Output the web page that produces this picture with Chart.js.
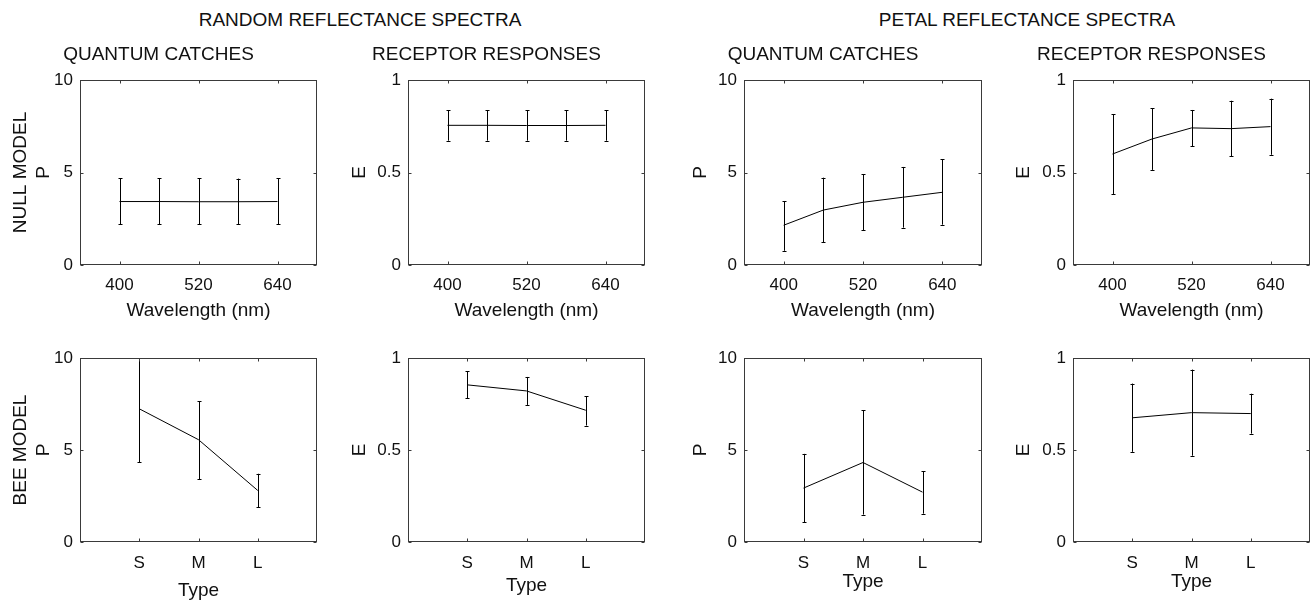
<!DOCTYPE html>
<html lang="en">
<head>
<meta charset="UTF-8">
<title>Reflectance spectra - quantum catches and receptor responses</title>
<script src="https://cdn.jsdelivr.net/npm/chart.js@4"></script>
<style>
  body { margin: 0; background: #fff; width: 1314px; height: 605px; overflow: hidden; position: relative;
         font-family: "Liberation Sans", Arial, Helvetica, sans-serif; }
  .supertitle { position: absolute; top: 9px; font-size: 19px; line-height: 22px; color: #111;
                transform: translateX(-50%); white-space: nowrap; }
  canvas { position: absolute; }
</style>
</head>
<body>
<div class="supertitle" style="left:360px">RANDOM REFLECTANCE SPECTRA</div>
<div class="supertitle" style="left:1027px">PETAL REFLECTANCE SPECTRA</div>

<script>
  // x values
  const wavelengths = [400, 460, 520, 580, 640];
  const wlTicks = [400, 520, 640];
  const types = ['S', 'M', 'L'];
  const pTicks = [0, 5, 10];
  const eTicks = [0, 0.5, 1];

  // null model, random spectra
  const rndNullP = [3.43, 3.43, 3.42, 3.42, 3.43];
  const rndNullPLo = [2.21, 2.21, 2.21, 2.21, 2.21];
  const rndNullPHi = [4.68, 4.68, 4.68, 4.67, 4.68];
  const rndNullE = [0.755, 0.755, 0.754, 0.754, 0.755];
  const rndNullELo = [0.672, 0.672, 0.672, 0.672, 0.672];
  const rndNullEHi = [0.836, 0.836, 0.836, 0.836, 0.836];

  // null model, petal spectra
  const petNullP = [2.15, 2.97, 3.39, 3.66, 3.93];
  const petNullPLo = [0.77, 1.23, 1.87, 2.02, 2.18];
  const petNullPHi = [3.46, 4.72, 4.90, 5.30, 5.71];
  const petNullE = [0.600, 0.681, 0.741, 0.737, 0.748];
  const petNullELo = [0.384, 0.514, 0.643, 0.588, 0.596];
  const petNullEHi = [0.816, 0.847, 0.838, 0.888, 0.899];

  // bee model, random spectra
  const rndBeeP = [7.24, 5.56, 2.80];
  const rndBeePLo = [4.33, 3.40, 1.88];
  const rndBeePHi = [10.15, 7.66, 3.71];
  const rndBeeE = [0.854, 0.821, 0.716];
  const rndBeeELo = [0.780, 0.745, 0.633];
  const rndBeeEHi = [0.928, 0.897, 0.792];

  // bee model, petal spectra
  const petBeeP = [2.93, 4.32, 2.71];
  const petBeePLo = [1.07, 1.49, 1.54];
  const petBeePHi = [4.79, 7.16, 3.85];
  const petBeeE = [0.675, 0.703, 0.698];
  const petBeeELo = [0.490, 0.469, 0.589];
  const petBeeEHi = [0.861, 0.937, 0.806];

  Chart.defaults.font.family = '"Liberation Sans", Arial, Helvetica, sans-serif';
  Chart.defaults.color = '#111';

  // plot boxes
  const colLeft = [80, 408, 744, 1073];
  const colWidth = [237, 237, 238, 237];
  const yTitlePad = [8.6, 19.6, 24.6, 18.6];
  const typeTitlePad = [1.6, 6.6, 10.6, 10.6];

  const panels = [
    { row: 0, col: 0, title: 'QUANTUM CATCHES', mean: rndNullP, lo: rndNullPLo, hi: rndNullPHi, yt: pTicks, ylab: ['NULL MODEL', 'P'] },
    { row: 0, col: 1, title: 'RECEPTOR RESPONSES', mean: rndNullE, lo: rndNullELo, hi: rndNullEHi, yt: eTicks, ylab: 'E' },
    { row: 0, col: 2, title: 'QUANTUM CATCHES', mean: petNullP, lo: petNullPLo, hi: petNullPHi, yt: pTicks, ylab: 'P' },
    { row: 0, col: 3, title: 'RECEPTOR RESPONSES', mean: petNullE, lo: petNullELo, hi: petNullEHi, yt: eTicks, ylab: 'E' },
    { row: 1, col: 0, mean: rndBeeP, lo: rndBeePLo, hi: rndBeePHi, yt: pTicks, ylab: ['BEE MODEL', 'P'] },
    { row: 1, col: 1, mean: rndBeeE, lo: rndBeeELo, hi: rndBeeEHi, yt: eTicks, ylab: 'E' },
    { row: 1, col: 2, mean: petBeeP, lo: petBeePLo, hi: petBeePHi, yt: pTicks, ylab: 'P' },
    { row: 1, col: 3, mean: petBeeE, lo: petBeeELo, hi: petBeeEHi, yt: eTicks, ylab: 'E' }
  ];

  // error bars, box and inward ticks like the matlab axes
  const matlabAxes = {
    id: 'matlabAxes',
    afterDatasetsDraw(chart) {
      const { ctx, chartArea: a, scales: { x, y } } = chart;
      const ds = chart.data.datasets[0];
      const pts = chart.getDatasetMeta(0).data;
      ctx.save();
      ctx.beginPath();
      ctx.rect(a.left, a.top, a.right - a.left, a.bottom - a.top);
      ctx.clip();
      ctx.strokeStyle = '#000';
      ctx.lineWidth = 1;
      pts.forEach((p, i) => {
        const px = Math.round(p.x) + 0.5;
        const yl = y.getPixelForValue(ds.errLo[i]);
        const yh = y.getPixelForValue(ds.errHi[i]);
        ctx.beginPath();
        ctx.moveTo(px, yl); ctx.lineTo(px, yh);
        ctx.moveTo(px - 2, Math.round(yl) + 0.5); ctx.lineTo(px + 2, Math.round(yl) + 0.5);
        ctx.moveTo(px - 2, Math.round(yh) + 0.5); ctx.lineTo(px + 2, Math.round(yh) + 0.5);
        ctx.stroke();
      });
      ctx.restore();

      ctx.save();
      ctx.strokeStyle = '#3a3a3a';
      ctx.lineWidth = 1;
      const l = Math.round(a.left) + 0.5, r = Math.round(a.right) - 0.5;
      const t = Math.round(a.top) + 0.5, b = Math.round(a.bottom) - 0.5;
      ctx.strokeRect(l, t, r - l, b - t);
      ctx.beginPath();
      x.ticks.forEach(tk => {
        const px = Math.round(x.getPixelForValue(tk.value)) + 0.5;
        ctx.moveTo(px, b); ctx.lineTo(px, b - 3);
        ctx.moveTo(px, t); ctx.lineTo(px, t + 3);
      });
      y.ticks.forEach(tk => {
        const py = Math.round(y.getPixelForValue(tk.value)) + 0.5;
        ctx.moveTo(l, py); ctx.lineTo(l + 3, py);
        ctx.moveTo(r, py); ctx.lineTo(r - 3, py);
      });
      ctx.stroke();
      ctx.restore();
    }
  };

  panels.forEach(pn => {
    const top = pn.row === 0;
    const canvas = document.createElement('canvas');
    const left = colLeft[pn.col] - 80;
    const w = 80 + colWidth[pn.col] + 4;
    const cTop = top ? 30 : 340;
    const h = top ? 295 : 264;
    canvas.width = w;
    canvas.height = h;
    canvas.style.left = left + 'px';
    canvas.style.top = cTop + 'px';
    canvas.style.width = w + 'px';
    canvas.style.height = h + 'px';
    document.body.appendChild(canvas);

    const xs = top ? wavelengths : types.map((_, i) => i + 1);
    const xScale = top ? {
      type: 'linear', min: 340, max: 700,
      afterBuildTicks: s => { s.ticks = wlTicks.map(v => ({ value: v })); },
      ticks: { padding: 10, font: { size: 17 }, maxRotation: 0, autoSkip: false },
      title: { display: true, text: 'Wavelength (nm)', font: { size: 19 }, padding: { top: 0, bottom: 2.6 } }
    } : {
      type: 'linear', min: 0, max: 4,
      afterBuildTicks: s => { s.ticks = types.map((_, i) => ({ value: i + 1 })); },
      ticks: { padding: 11, font: { size: 17 }, maxRotation: 0, autoSkip: false, callback: v => types[v - 1] },
      title: { display: true, text: 'Type', font: { size: 19 }, padding: { top: 0, bottom: typeTitlePad[pn.col] } }
    };
    xScale.grid = { display: false, drawTicks: false };
    xScale.border = { display: false };
    xScale.afterFit = s => { s.height = top ? 60 : 62; };

    new Chart(canvas, {
      type: 'line',
      data: {
        datasets: [{
          data: xs.map((v, i) => ({ x: v, y: pn.mean[i] })),
          errLo: pn.lo,
          errHi: pn.hi,
          borderColor: '#000',
          borderWidth: 1,
          pointRadius: 0,
          fill: false,
          tension: 0
        }]
      },
      options: {
        responsive: false,
        animation: false,
        events: [],
        layout: { padding: { top: top ? 0 : 18, right: 4, bottom: 0, left: 0 } },
        plugins: {
          legend: { display: false },
          tooltip: { enabled: false },
          title: {
            display: top,
            text: pn.title || '',
            font: { size: 19, weight: 'normal' },
            color: '#111',
            padding: { top: 13.6, bottom: 13.6 }
          }
        },
        scales: {
          x: xScale,
          y: {
            type: 'linear', min: 0, max: pn.yt[2],
            afterBuildTicks: s => { s.ticks = pn.yt.map(v => ({ value: v })); },
            ticks: { padding: 7, font: { size: 17 }, callback: v => String(v) },
            grid: { display: false, drawTicks: false },
            border: { display: false },
            title: {
              display: true, text: pn.ylab,
              font: { size: 19, lineHeight: 1.25 },
              padding: { top: yTitlePad[pn.col], bottom: 0 }
            },
            afterFit: s => { s.width = 80; }
          }
        }
      },
      plugins: [matlabAxes]
    });
  });
</script>
</body>
</html>
